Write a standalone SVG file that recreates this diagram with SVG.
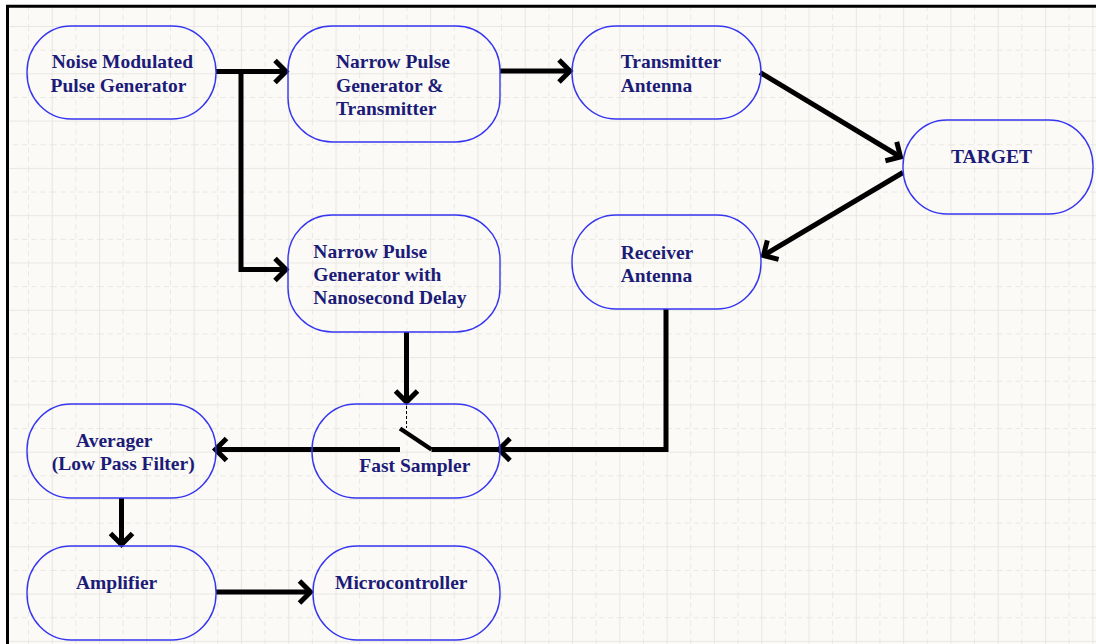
<svg xmlns="http://www.w3.org/2000/svg" width="1096" height="644" viewBox="0 0 1096 644">
  <style>
    .node { fill: none; stroke: #3636f0; stroke-width: 1.4; }
    .lbl { font-family: "Liberation Serif", "Times New Roman", serif; font-weight: bold; font-size: 19.5px; fill: #1c1c78; }
    .conn { fill: none; stroke: #000; stroke-width: 5; }
    .head { fill: none; stroke: #000; stroke-width: 5; stroke-linejoin: miter; }
  </style>
  <defs>
    <pattern id="grid" patternUnits="userSpaceOnUse" x="4.4" y="26" width="47.3" height="47.3">
      <path d="M0.5,0 V47.3 M0,0.5 H47.3" stroke="#e9e7e1" stroke-width="1.2" fill="none"/>
      <path d="M24.15,0 V47.3 M0,24.15 H47.3" stroke="#e9e7e1" stroke-width="1" stroke-dasharray="5,4" fill="none"/>
    </pattern>
    <marker id="ah" markerUnits="userSpaceOnUse" viewBox="-20 -20 26 40" refX="0" refY="0" markerWidth="26" markerHeight="40" orient="auto" overflow="visible">
      <path d="M-11,-11 L0,0 L-11,11" fill="none" stroke="#000" stroke-width="5"/>
    </marker>
  </defs>

  <rect x="0" y="0" width="1096" height="644" fill="#ffffff"/>
  <rect x="7" y="6" width="1089" height="638" fill="#fbfaf7"/>
  <rect x="7" y="6" width="1089" height="638" fill="url(#grid)"/>
  <path d="M7.5,644 V6.2 H1096" fill="none" stroke="#000" stroke-width="3"/>

  <g id="connectors">
    <path class="conn" d="M216,71.5 H286" marker-end="url(#ah)"/>
    <path class="conn" d="M241,71.5 V269.5 H286" marker-end="url(#ah)"/>
    <path class="conn" d="M500,71 H570" marker-end="url(#ah)"/>
    <path class="conn" d="M760,72.5 L900.5,157" marker-end="url(#ah)"/>
    <path class="conn" d="M903,172.5 L763.5,255.5" marker-end="url(#ah)"/>
    <path class="conn" d="M406.5,332 V402" marker-end="url(#ah)"/>
    <path d="M406.5,406 V428" fill="none" stroke="#000" stroke-width="1" stroke-dasharray="3,2"/>
    <path d="M400,428.5 L431.5,449.5" fill="none" stroke="#000" stroke-width="4.5"/>
    <path class="conn" d="M400,449.5 H215.5" marker-end="url(#ah)"/>
    <path class="conn" d="M666,309 V449.5 H431.5"/>
    <path class="head" d="M510,438.5 L499,449.5 L510,460.5"/>
    <path class="conn" d="M121.5,498 V544.5" marker-end="url(#ah)"/>
    <path class="conn" d="M216,592 H310.5" marker-end="url(#ah)"/>
  </g>

  <g id="n1">
    <rect class="node" x="27" y="26" width="189" height="93" rx="44" ry="46"/>
    <text class="lbl" x="51.7" y="68.3">Noise Modulated</text>
    <text class="lbl" x="50.5" y="91.7">Pulse Generator</text>
  </g>
  <g id="n2">
    <rect class="node" x="288" y="26" width="212" height="116" rx="44" ry="44"/>
    <text class="lbl" x="336" y="68.3">Narrow Pulse</text>
    <text class="lbl" x="336" y="91.7">Generator &amp;</text>
    <text class="lbl" x="336" y="114.5">Transmitter</text>
  </g>
  <g id="n3">
    <rect class="node" x="572" y="26" width="189" height="93" rx="44" ry="46"/>
    <text class="lbl" x="620.7" y="68.3">Transmitter</text>
    <text class="lbl" x="620.7" y="92">Antenna</text>
  </g>
  <g id="n4">
    <rect class="node" x="903" y="120" width="190" height="94" rx="44" ry="46"/>
    <text class="lbl" x="951" y="163.3">TARGET</text>
  </g>
  <g id="n5">
    <rect class="node" x="288" y="215" width="212" height="117" rx="44" ry="44"/>
    <text class="lbl" x="313.3" y="258.3">Narrow Pulse</text>
    <text class="lbl" x="313.3" y="281.3">Generator with</text>
    <text class="lbl" x="313.3" y="304.3">Nanosecond Delay</text>
  </g>
  <g id="n6">
    <rect class="node" x="572" y="215" width="189" height="94" rx="44" ry="46"/>
    <text class="lbl" x="620.7" y="259">Receiver</text>
    <text class="lbl" x="620.7" y="282">Antenna</text>
  </g>
  <g id="n7">
    <rect class="node" x="312" y="404" width="188" height="94" rx="44" ry="46"/>
    <text class="lbl" x="359.3" y="471.7">Fast Sampler</text>
  </g>
  <g id="n8">
    <rect class="node" x="27" y="404" width="189" height="94" rx="44" ry="46"/>
    <text class="lbl" x="76" y="447.3">Averager</text>
    <text class="lbl" x="51.7" y="470">(Low Pass Filter)</text>
  </g>
  <g id="n9">
    <rect class="node" x="27" y="546" width="189" height="94" rx="44" ry="46"/>
    <text class="lbl" x="76" y="589">Amplifier</text>
  </g>
  <g id="n10">
    <rect class="node" x="313" y="546" width="187" height="94" rx="44" ry="46"/>
    <text class="lbl" x="335" y="589">Microcontroller</text>
  </g>
</svg>
